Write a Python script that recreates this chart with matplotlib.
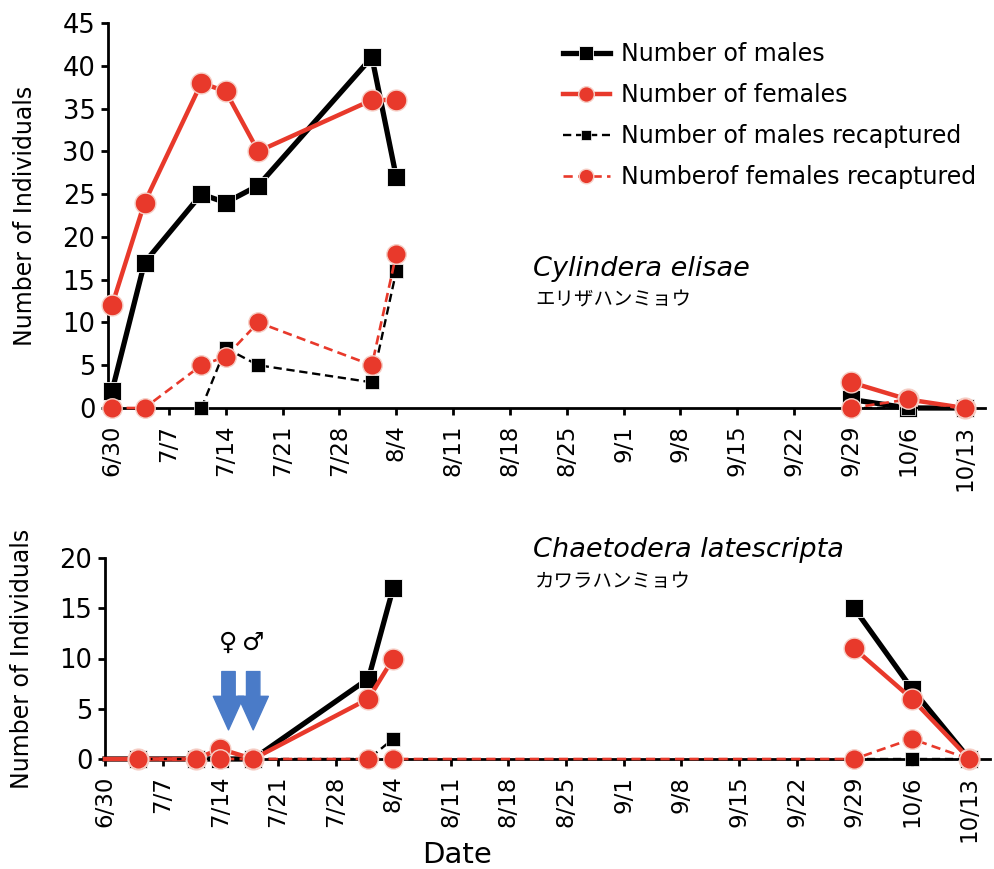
import datetime
import numpy as np
import matplotlib
matplotlib.use('Agg')
import matplotlib.pyplot as plt

plt.rcParams['font.family'] = ['DejaVu Sans', 'Noto Sans CJK JP']

RED = '#e8392b'
BLUE = '#4a7bc8'

# survey dates (shared by both species)
dates = ['6/30', '7/4', '7/11', '7/14', '7/18', '8/1', '8/4', '9/29', '10/6', '10/13']
tick_dates = ['6/30', '7/7', '7/14', '7/21', '7/28', '8/4', '8/11', '8/18', '8/25',
              '9/1', '9/8', '9/15', '9/22', '9/29', '10/6', '10/13']

nan = np.nan
# Cylindera elisae
elisae_males = [2, 17, 25, 24, 26, 41, 27, 1, 0, 0]
elisae_females = [12, 24, 38, 37, 30, 36, 36, 3, 1, 0]
elisae_males_recap = [nan, nan, 0, 7, 5, 3, 16, 0, 0, 0]
elisae_females_recap = [0, 0, 5, 6, 10, 5, 18, 0, 1, 0]

# Chaetodera latescripta
late_males = [0, 0, 0, 0, 0, 8, 17, 15, 7, 0]
late_females = [0, 0, 0, 1, 0, 6, 10, 11, 6, 0]
late_males_recap = [nan, 0, 0, 0, 0, 0, 2, 0, 0, 0]
late_females_recap = [nan, 0, 0, 0, 0, 0, 0, 0, 2, 0]

# release of marked individuals (arrows)
release_dates = ['7/15', '7/18']
release_signs = ['\u2640', '\u2642']

GAP = 7  # index where the August/September break starts


def to_day(s):
    m, d = map(int, s.split('/'))
    return (datetime.date(2014, m, d) - datetime.date(2014, 6, 30)).days


x = np.array([to_day(d) for d in dates], dtype=float)

STYLES = {
    'males': dict(color='black', lw=3.8, ls='-', marker='s', ms=13,
                  mfc='black', mec='white', mew=0.6, zorder=4),
    'females': dict(color=RED, lw=3.2, ls='-', marker='o', ms=15,
                    mfc=RED, mec='#f6cfc6', mew=1.0, zorder=5),
    'males_recap': dict(color='black', lw=1.7, ls=(0, (3.5, 2)), marker='s', ms=10,
                        mfc='black', mec='white', mew=0.5, zorder=6),
    'females_recap': dict(color=RED, lw=1.9, ls=(0, (3.5, 2)), marker='o', ms=14,
                          mfc=RED, mec='#f6cfc6', mew=1.0, zorder=7),
}


def plot_series(ax, y, kind, bridge=False, skip_first_marker=False, label=None):
    y = np.array(y, dtype=float)
    st = dict(STYLES[kind])
    if bridge:
        parts = [(x, y)]
    else:
        parts = [(x[:GAP], y[:GAP]), (x[GAP:], y[GAP:])]
    for i, (xx, yy) in enumerate(parts):
        me = None
        if skip_first_marker and i == 0:
            me = list(range(1, len(xx)))
        ax.plot(xx, yy, clip_on=False, markevery=me,
                label=label if i == 0 else None, **st)


def style_axes(ax, ymax):
    for s in ['top', 'right']:
        ax.spines[s].set_visible(False)
    for s in ['left', 'bottom']:
        ax.spines[s].set_linewidth(2.0)
        ax.spines[s].set_zorder(3)
    ax.set_ylim(0, ymax)
    ax.set_yticks(range(0, ymax + 1, 5))
    ax.set_xticks([to_day(d) for d in tick_dates])
    ax.set_xticklabels(tick_dates, rotation=90, fontsize=16.5)
    ax.tick_params(axis='y', labelsize=18.5, width=2, length=5, pad=4)
    ax.tick_params(axis='x', width=2, length=5, pad=7)
    ax.set_ylabel('Number of Individuals', fontsize=17, labelpad=18)


fig = plt.figure(figsize=(9.95, 8.69), dpi=100)
ax1 = fig.add_axes([108 / 995, 1 - 408 / 869, 877 / 995, 385 / 869])
ax2 = fig.add_axes([105 / 995, 1 - 759 / 869, 885 / 995, 201 / 869])

# top panel
plot_series(ax1, elisae_males, 'males', label='Number of males')
plot_series(ax1, elisae_females, 'females', label='Number of females')
plot_series(ax1, elisae_males_recap, 'males_recap', label='Number of males recaptured')
plot_series(ax1, elisae_females_recap, 'females_recap', label='Numberof females recaptured')
style_axes(ax1, 45)
ax1.set_xlim(-0.5, 107.5)

# bottom panel
plot_series(ax2, late_males, 'males', skip_first_marker=True)
plot_series(ax2, late_females, 'females', skip_first_marker=True)
plot_series(ax2, late_males_recap, 'males_recap')
plot_series(ax2, late_females_recap, 'females_recap', bridge=True)
style_axes(ax2, 20)
ax2.set_xlim(0, 107.5)

for d, sign in zip(release_dates, release_signs):
    xd = to_day(d)
    ax2.annotate('', xy=(xd, 2.9), xytext=(xd, 8.7),
                 arrowprops=dict(arrowstyle='simple,head_length=1.05,head_width=0.95,tail_width=0.42',
                                 color=BLUE, shrinkA=0, shrinkB=0, mutation_scale=23),
                 zorder=8)
    ax2.text(xd, 11.6, sign, fontsize=18, ha='center', va='center',
             family=['DejaVu Sans'])

# species names
fig.text(533 / 995, 1 - 256 / 869, 'Cylindera elisae', fontsize=19.5,
         style='italic', va='top', ha='left')
fig.text(535 / 995, 1 - 290 / 869, 'エリザハンミョウ', fontsize=14,
         family=['Noto Sans CJK JP'], va='top', ha='left')
fig.text(533 / 995, 1 - 537 / 869, 'Chaetodera latescripta', fontsize=19.5,
         style='italic', va='top', ha='left')
fig.text(535 / 995, 1 - 571 / 869, 'カワラハンミョウ', fontsize=14,
         family=['Noto Sans CJK JP'], va='top', ha='left')

fig.text(457 / 995, 1 - 855 / 869, 'Date', fontsize=21, ha='center', va='center')

fig.legend(loc='upper left', bbox_to_anchor=(551 / 995, 1 - 30 / 869),
           frameon=False, fontsize=17, handlelength=2.0, handletextpad=0.45,
           labelspacing=0.72, borderpad=0, markerscale=0.75)

fig.savefig('out.png', dpi=100)
